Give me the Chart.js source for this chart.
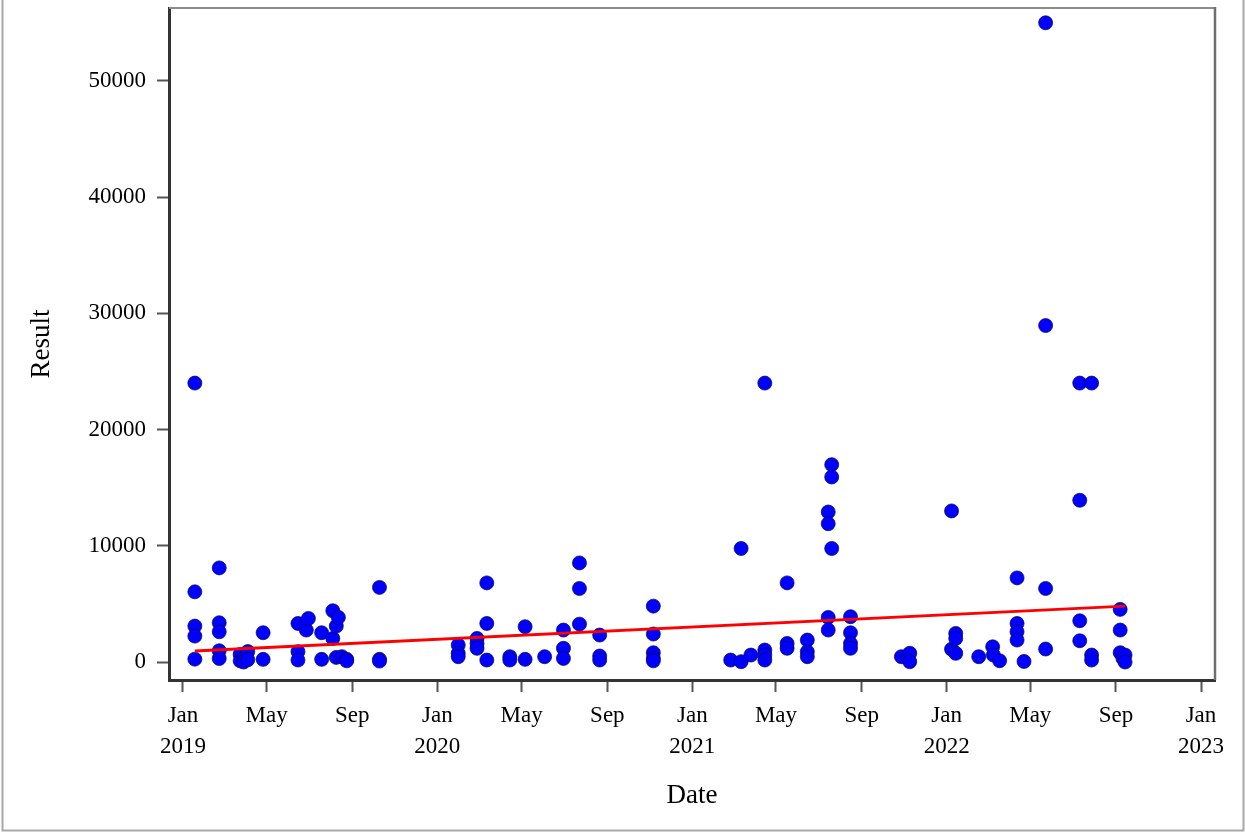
<!DOCTYPE html>
<html>
<head>
<meta charset="utf-8">
<script src="https://cdn.jsdelivr.net/npm/chart.js@4.4.1/dist/chart.umd.min.js"></script>
<style>
html,body{margin:0;padding:0;background:#fff;overflow:hidden;}
#c{position:absolute;left:0;top:0;}
</style>
</head>
<body>
<canvas id="c" width="1245" height="832"></canvas>
<script>
// ---- data ----
const sampleDates = [
  '2019-01-18','2019-01-18','2019-01-18','2019-01-18','2019-01-18',
  '2019-02-22','2019-02-22','2019-02-22','2019-02-22','2019-02-22',
  '2019-03-24','2019-03-24','2019-03-29','2019-03-29','2019-04-04','2019-04-04',
  '2019-04-26','2019-04-26',
  '2019-06-15','2019-06-15','2019-06-15','2019-06-27','2019-06-30',
  '2019-07-19','2019-07-19',
  '2019-08-04','2019-08-04','2019-08-09','2019-08-09','2019-08-12',
  '2019-08-17','2019-08-24','2019-08-24',
  '2019-10-10','2019-10-10','2019-10-10',
  '2020-01-31','2020-01-31','2020-01-31',
  '2020-02-27','2020-02-27','2020-02-27',
  '2020-03-12','2020-03-12','2020-03-12',
  '2020-04-14','2020-04-14',
  '2020-05-06','2020-05-06',
  '2020-06-03',
  '2020-06-30','2020-06-30','2020-06-30',
  '2020-07-23','2020-07-23','2020-07-23',
  '2020-08-21','2020-08-21','2020-08-21',
  '2020-11-06','2020-11-06','2020-11-06','2020-11-06','2020-11-06',
  '2021-02-25',
  '2021-03-12','2021-03-12',
  '2021-03-26',
  '2021-04-15','2021-04-15','2021-04-15','2021-04-15',
  '2021-05-17','2021-05-17','2021-05-17',
  '2021-06-15','2021-06-15','2021-06-15',
  '2021-07-15','2021-07-15','2021-07-15','2021-07-15',
  '2021-07-20','2021-07-20','2021-07-20',
  '2021-08-16','2021-08-16','2021-08-16','2021-08-16',
  '2021-10-28','2021-11-06','2021-11-09','2021-11-09',
  '2022-01-08','2022-01-08',
  '2022-01-14','2022-01-14','2022-01-14',
  '2022-02-16','2022-03-08','2022-03-09','2022-03-18',
  '2022-04-12','2022-04-12','2022-04-12','2022-04-12',
  '2022-04-22',
  '2022-05-23','2022-05-23','2022-05-23','2022-05-23',
  '2022-07-11','2022-07-11','2022-07-11','2022-07-11',
  '2022-07-28','2022-07-28','2022-07-28',
  '2022-09-07','2022-09-07','2022-09-07',
  '2022-09-11','2022-09-14','2022-09-14'
];
const results = [
  24000,6040,3090,2230,250,
  8100,3380,2600,970,300,
  650,100,300,0,900,200,
  2520,230,
  3320,890,170,2750,3750,
  2520,230,
  4410,2030,3090,400,3840,
  460,230,100,
  6420,230,80,
  1460,750,460,
  2030,1600,1180,
  6810,3320,170,
  460,170,
  3040,230,
  460,
  2750,1180,310,
  8530,6330,3260,
  2320,520,170,
  4810,2410,800,310,100,
  170,
  9770,30,
  600,
  24000,1030,600,170,
  6810,1600,1180,
  1890,890,460,
  12910,11900,3840,2750,
  16980,15920,9770,
  3900,2520,1600,1180,
  460,400,750,30,
  13000,1100,
  2460,2030,750,
  460,1310,600,110,
  7240,3320,2600,1890,
  50,
  55000,28950,6330,1120,
  24000,13920,3550,1830,
  24000,600,170,
  4530,2750,800,
  310,600,0
];
const fitDates = ['2019-01-18','2022-09-14'];
const fitValues = [950, 4810];
const xTickDates = ['2019-01-01','2019-05-01','2019-09-01','2020-01-01','2020-05-01','2020-09-01',
  '2021-01-01','2021-05-01','2021-09-01','2022-01-01','2022-05-01','2022-09-01','2023-01-01'];
const xTickLabels = [['Jan','2019'],'May','Sep',['Jan','2020'],'May','Sep',
  ['Jan','2021'],'May','Sep',['Jan','2022'],'May','Sep',['Jan','2023']];
const yTickValues = [0,10000,20000,30000,40000,50000];

// ---- helpers ----
const ORIGIN = Date.UTC(2019,0,1);
function dayOf(s){ const p = s.split('-').map(Number); return (Date.UTC(p[0],p[1]-1,p[2]) - ORIGIN)/86400000; }

const points = sampleDates.map((d,i)=>({x:dayOf(d), y:results[i]}));
const fitPts = fitDates.map((d,i)=>({x:dayOf(d), y:fitValues[i]}));

const FONT = "'Liberation Serif','Times New Roman',serif";
const tickFont = {family:FONT, size:23, lineHeight:1.33};
const titleFont = {family:FONT, size:27, lineHeight:1.33};

const framePlugin = {
  id:'frame',
  afterDraw(chart){
    const {ctx, chartArea:a} = chart;
    ctx.save();
    ctx.strokeStyle = '#8c8c8c';
    ctx.lineWidth = 2;
    ctx.beginPath();
    ctx.moveTo(a.left, a.top); ctx.lineTo(a.right, a.top);
    ctx.stroke();
    ctx.strokeStyle = '#6e6e6e';
    ctx.lineWidth = 2.5;
    ctx.beginPath();
    ctx.moveTo(a.right, a.top-1); ctx.lineTo(a.right, a.bottom);
    ctx.stroke();
    // outer figure border
    ctx.strokeStyle = '#a8a8a8';
    ctx.lineWidth = 2;
    ctx.beginPath();
    ctx.moveTo(2.5, 0); ctx.lineTo(2.5, 830.5); ctx.lineTo(1243.5, 830.5); ctx.lineTo(1243.5, 0);
    ctx.stroke();
    ctx.restore();
  }
};

new Chart(document.getElementById('c'), {
  type:'scatter',
  data:{
    datasets:[
      {type:'line', data:fitPts, borderColor:'#ff0000', borderWidth:3, pointRadius:0, fill:false, order:0},
      {type:'scatter', data:points, backgroundColor:'#0000ff', borderColor:'rgba(10,10,90,0.75)', borderWidth:1, pointRadius:7, order:1}
    ]
  },
  options:{
    responsive:false,
    devicePixelRatio:1,
    animation:false,
    layout:{padding:{left:0, right:30, top:7, bottom:0}},
    plugins:{legend:{display:false}, tooltip:{enabled:false}},
    scales:{
      x:{
        type:'linear', position:'bottom',
        min:-20.09, max:1481.09,
        afterBuildTicks(s){ s.ticks = xTickDates.map(d=>({value:dayOf(d)})); },
        afterFit(s){ s.height = 152; s.paddingLeft = 0; s.paddingRight = 0; },
        ticks:{autoSkip:false, maxRotation:0, minRotation:0, color:'#000', font:tickFont, padding:9,
          callback:(v,i)=>xTickLabels[i]},
        grid:{drawOnChartArea:false, drawTicks:true, tickLength:12, tickColor:'#555', tickWidth:2},
        border:{display:true, color:'#333', width:3},
        title:{display:true, text:'Date', color:'#000', font:titleFont, padding:{top:0, bottom:18}}
      },
      y:{
        type:'linear', position:'left',
        min:-1546, max:56271,
        afterBuildTicks(s){ s.ticks = yTickValues.map(v=>({value:v})); },
        afterFit(s){ s.width = 169; s.paddingTop = 0; s.paddingBottom = 0; },
        ticks:{color:'#000', font:tickFont, padding:11, callback:v=>String(v)},
        grid:{drawOnChartArea:false, drawTicks:true, tickLength:12, tickColor:'#555', tickWidth:2},
        border:{display:true, color:'#333', width:3},
        title:{display:true, text:'Result', color:'#000', font:titleFont, padding:{top:24, bottom:0}}
      }
    }
  },
  plugins:[framePlugin]
});
</script>
</body>
</html>
